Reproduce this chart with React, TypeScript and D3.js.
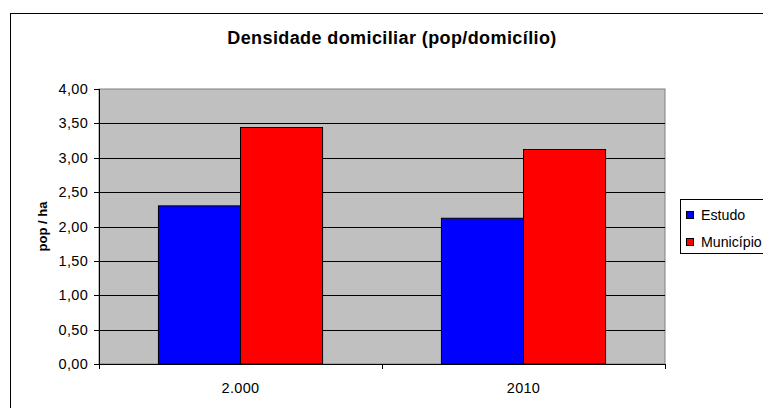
import React from "react";
import * as d3 from "d3";

const categories = ["2.000", "2010"];
const seriesNames = ["Estudo", "Município"];
const estudo = [2.3, 2.12];
const municipio = [3.44, 3.12];
const yTicks = [0, 0.5, 1, 1.5, 2, 2.5, 3, 3.5, 4];
const colors = ["#0000ff", "#ff0000"];

const W = 763;
const H = 408;
const plot = { left: 99, right: 665, top: 89, bottom: 364 };
const font = "Arial, 'Liberation Sans', sans-serif";

export default function App() {
  const x = d3.scaleBand<string>().domain(categories).range([plot.left, plot.right]);
  const y = d3.scaleLinear().domain([0, 4]).range([plot.bottom, plot.top]);
  const series = [estudo, municipio];
  const barW = x.bandwidth() * 0.29;
  const fmt = (v: number) => v.toFixed(2).replace(".", ",");

  return (
    <svg width={W} height={H} style={{ position: "absolute", left: 0, top: 0, display: "block" }}>
      <rect x={0} y={0} width={W} height={H} fill="#fff" />
      <rect x={10.5} y={13.5} width={W + 20} height={H + 20} fill="none" stroke="#000" strokeWidth={1} />
      <text x={392} y={44} textAnchor="middle" fontFamily={font} fontWeight="bold" fontSize={18} letterSpacing={0.4}>
        Densidade domiciliar (pop/domicílio)
      </text>
      <rect x={plot.left} y={plot.top} width={plot.right - plot.left} height={plot.bottom - plot.top} fill="#c0c0c0" stroke="#808080" strokeWidth={1} />
      {yTicks.slice(1, -1).map((t) => (
        <line key={t} x1={plot.left} x2={plot.right} y1={Math.round(y(t)) + 0.5} y2={Math.round(y(t)) + 0.5} stroke="#000" strokeWidth={1} />
      ))}
      {categories.map((c, i) =>
        series.map((s, j) => {
          const cx = (x(c) as number) + x.bandwidth() / 2;
          const bx = j === 0 ? cx - barW : cx;
          return (
            <rect key={c + j} x={bx} y={y(s[i])} width={barW} height={plot.bottom - y(s[i])} fill={colors[j]} stroke="#000" strokeWidth={1} />
          );
        })
      )}
      <line x1={plot.left + 0.5} x2={plot.left + 0.5} y1={plot.top} y2={plot.bottom} stroke="#000" />
      <line x1={plot.left - 5} x2={plot.right} y1={plot.bottom + 0.5} y2={plot.bottom + 0.5} stroke="#000" />
      {yTicks.map((t) => (
        <g key={t}>
          <line x1={plot.left - 5} x2={plot.left} y1={Math.round(y(t)) + 0.5} y2={Math.round(y(t)) + 0.5} stroke="#000" />
          <text x={88} y={y(t)} dy="0.35em" textAnchor="end" fontFamily={font} fontSize={14.5} letterSpacing={0.3}>
            {fmt(t)}
          </text>
        </g>
      ))}
      {[0, 1, 2].map((k) => {
        const xx = plot.left + k * x.step();
        return <line key={k} x1={Math.round(xx) + 0.5} x2={Math.round(xx) + 0.5} y1={plot.bottom} y2={plot.bottom + 5} stroke="#000" />;
      })}
      {categories.map((c) => (
        <text key={c} x={(x(c) as number) + x.bandwidth() / 2} y={393} textAnchor="middle" fontFamily={font} fontSize={14.5} letterSpacing={0.3}>
          {c}
        </text>
      ))}
      <text transform={`translate(47,${(plot.top + plot.bottom) / 2}) rotate(-90)`} textAnchor="middle" fontFamily={font} fontWeight="bold" fontSize={13}>
        pop / ha
      </text>
      <rect x={680.5} y={199.5} width={90} height={54} fill="#fff" stroke="#000" />
      {seriesNames.map((n, j) => (
        <g key={n}>
          <rect x={686.5} y={211.5 + j * 27} width={7} height={7} fill={colors[j]} stroke="#000" />
          <text x={701} y={215 + j * 27} dy="0.35em" fontFamily={font} fontSize={14.2}>
            {n}
          </text>
        </g>
      ))}
    </svg>
  );
}
